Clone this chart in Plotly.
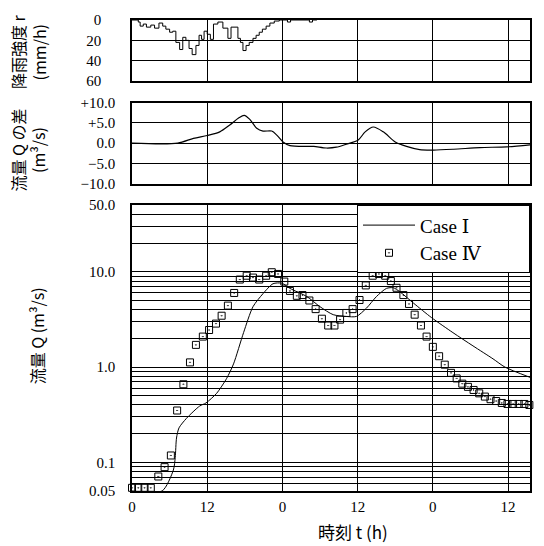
import plotly.graph_objects as go
from plotly.subplots import make_subplots

# ---- data ----
rain_t = [0, 1.0, 1.3, 1.8, 2.3, 3.0, 3.6, 4.3, 4.9, 5.4, 6.0, 6.5, 7.0, 7.6, 8.1, 8.6, 9.1, 9.6,
          10.2, 10.7, 11.1, 11.5, 12.0, 12.5, 13.0, 13.7, 14.5, 15.3, 15.8, 16.9, 17.3, 17.7, 18.2,
          18.7, 19.3, 19.8, 20.3, 20.8, 21.4, 22.0, 22.7, 23.5, 24.8, 25.3, 28.3, 28.8, 29.5]
rain_r = [0, 2, 6, 4, 7, 5, 8, 3, 6, 9, 12, 11, 22, 29, 17, 20, 28, 34,
          25, 15, 19, 11, 14, 19, 4, 2, 8, 18, 7, 18, 22, 30, 25,
          22, 18, 15, 12, 9, 6, 3, 1, 0, 2, 0, 2, 0, 0]

diff_t = [0, 7.3, 9.8, 12.0, 14.0, 15.6, 17.0, 17.9, 18.8, 19.9, 20.9, 22.3, 23.1, 24.1, 25.2,
          27.9, 29.0, 31.0, 32.6, 34.2, 36.1, 37.2, 38.5, 40.1, 42.0, 43.8, 45.9, 48.1, 51.3,
          55.5, 59.8, 63.5]
diff_v = [0, 0, 1.2, 1.9, 2.8, 4.5, 6.2, 6.9, 5.9, 3.7, 3.0, 3.0, 2.0, 0.3, -0.6,
          -0.8, -0.8, -1.2, -1.0, -0.25, 0.8, 2.8, 4.0, 2.8, 0.3, -0.8, -1.6, -1.7, -1.5,
          -1.1, -0.9, -0.4]

case1_t = [0, 4.8, 6.6, 6.9, 7.1, 7.5, 8.7, 10.8, 11.8, 13.5, 15.1, 16.2, 17.8, 19.3, 20.9,
           22.5, 23.9, 25.2, 27.9, 30.0, 32.1, 34.2, 35.8, 37.4, 39.0, 40.6, 41.7, 42.7, 44.9,
           47.8, 51.2, 54.4, 57.6, 59.5, 63.5]
case1_q = [0.05, 0.05, 0.083, 0.113, 0.18, 0.23, 0.29, 0.39, 0.42, 0.53, 0.76, 1.08, 2.3, 4.3, 5.9,
           7.5, 7.6, 6.7, 5.5, 4.3, 3.55, 3.4, 3.4, 4.15, 5.5, 6.7, 6.8, 6.2, 4.7,
           3.3, 2.3, 1.67, 1.22, 1.0, 0.78]

case4_t = [0, 1, 2, 3, 4.2, 5.2, 6.2, 7.2, 8.2, 9.25, 10.2, 11.3, 12.3, 13.4, 14.3, 15.3, 16.3,
           17.2, 18.3, 19.3, 20.3, 21.4, 22.3, 23.3, 24.3, 25.2, 26.3, 27.2, 28.3, 29.3, 30.3,
           31.3, 32.3, 33.2, 34.2, 35.2, 36.3, 37.3, 38.4, 39.4, 40.4, 41.3, 42.2, 43.3, 44.2,
           45.1, 46.1, 47.0, 48.0, 49.0, 49.9, 50.9, 51.8, 52.7, 53.6, 54.5, 55.4, 56.3, 57.2,
           58.1, 59.0, 59.9, 60.8, 61.7, 62.6, 63.4]
case4_q = [0.054, 0.054, 0.054, 0.054, 0.071, 0.089, 0.118, 0.35, 0.66, 1.12, 1.71, 2.09, 2.45,
           2.86, 3.46, 4.42, 6.0, 8.3, 9.1, 8.7, 8.3, 9.1, 9.9, 9.5, 7.9, 6.3, 5.6, 5.7, 5.0,
           4.06, 3.22, 2.73, 2.73, 3.15, 3.7, 4.06, 5.06, 7.2, 9.1, 9.5, 9.1, 8.0, 6.8, 5.7,
           4.6, 3.55, 2.73, 2.09, 1.63, 1.30, 1.06, 0.87, 0.76, 0.67, 0.62, 0.575, 0.53, 0.49,
           0.46, 0.44, 0.42, 0.41, 0.41, 0.41, 0.41, 0.40]

x_tickvals = [0, 12, 24, 36, 48, 60]
x_ticktext = ["0", "12", "0", "12", "0", "12"]
rain_ticks = [0, 20, 40, 60]
diff_ticks = [-10, -5, 0, 5, 10]
diff_ticktext = ["\u221210.0", "\u22125.0", "0.0", "+5.0", "+10.0"]
q_ticks = [0.05, 0.1, 1, 10, 50]
q_ticktext = ["0.05", "0.1", "1.0", "10.0", "50.0"]
q_minor = [0.06, 0.07, 0.08, 0.09, 0.2, 0.3, 0.4, 0.5, 0.6, 0.7, 0.8, 0.9,
           2, 3, 4, 5, 6, 7, 8, 9, 20, 30, 40]

SERIF = "Liberation Serif, DejaVu Serif, Noto Sans CJK JP, serif"
JP = "Noto Sans CJK JP, Liberation Serif, sans-serif"

fig = make_subplots(rows=3, cols=1, shared_xaxes=False)

fig.add_trace(go.Scatter(x=rain_t, y=rain_r, mode="lines", line=dict(color="black", width=1, shape="hv"),
                         showlegend=False), row=1, col=1)
fig.add_trace(go.Scatter(x=diff_t, y=diff_v, mode="lines",
                         line=dict(color="black", width=1.2, shape="spline", smoothing=0.8),
                         showlegend=False), row=2, col=1)
fig.add_trace(go.Scatter(x=case1_t, y=case1_q, mode="lines", name="Case \u2160" + "\u00a0" * 9,
                         line=dict(color="black", width=1, shape="spline", smoothing=0.7)),
              row=3, col=1)
fig.add_trace(go.Scatter(x=case4_t, y=case4_q, mode="markers", name="Case \u2163" + "\u00a0" * 9,
                         marker=dict(symbol="square-open-dot", size=7, color="black",
                                     line=dict(color="black", width=1)),
                         cliponaxis=False), row=3, col=1)

axis_common = dict(showline=True, mirror=True, linecolor="black", linewidth=1.5,
                   showgrid=True, gridcolor="black", gridwidth=1, zeroline=False,
                   tickfont=dict(family=SERIF, size=15, color="black"))

for i in (1, 2, 3):
    fig.update_xaxes(range=[0, 63.5], tickvals=x_tickvals, ticktext=x_ticktext,
                     showticklabels=(i == 3), ticks="outside", ticklen=1,
                     tickcolor="rgba(0,0,0,0)", **axis_common, row=i, col=1)

fig.update_yaxes(range=[60, 0], tickvals=rain_ticks, ticks="outside", ticklen=26,
                 tickcolor="rgba(0,0,0,0)", domain=[0.8703, 1.0], **axis_common, row=1, col=1)
fig.update_yaxes(range=[-10, 10], tickvals=diff_ticks, ticktext=diff_ticktext, ticks="outside",
                 ticklen=12, tickcolor="rgba(0,0,0,0)", domain=[0.6527, 0.8243],
                 **axis_common, row=2, col=1)
fig.update_yaxes(type="log", range=[-1.30103, 1.69897], tickvals=q_ticks, ticktext=q_ticktext,
                 ticks="outside", ticklen=12, tickcolor="rgba(0,0,0,0)", domain=[0.0, 0.6067],
                 minor=dict(tickvals=q_minor, showgrid=True, gridcolor="black", gridwidth=1),
                 **axis_common, row=3, col=1)

annos = [
    dict(text="降雨強度 r<br>(mm/h)", x=-0.26, y=0.933),
    dict(text="流量 Q の差<br>(m³/s)", x=-0.26, y=0.724),
    dict(text="流量 Q (m³/s)", x=-0.2387, y=0.3305),
]
for a in annos:
    fig.add_annotation(text=a["text"], x=a["x"], y=a["y"], xref="paper", yref="paper",
                       textangle=-90, showarrow=False, xanchor="center", yanchor="middle",
                       font=dict(family=JP, size=16, color="black"))
fig.add_annotation(text="時刻 t (h)", x=0.555, y=-0.086, xref="paper", yref="paper",
                   showarrow=False, xanchor="center", yanchor="middle",
                   font=dict(family=JP, size=17, color="black"))

fig.update_layout(
    width=544, height=546,
    margin=dict(l=132, r=14, t=13, b=55),
    paper_bgcolor="white", plot_bgcolor="white",
    legend=dict(x=1, y=0.6067, xanchor="right", yanchor="top", xref="paper", yref="paper",
                bgcolor="white", bordercolor="black", borderwidth=1,
                font=dict(family=SERIF, size=19, color="black"),
                itemwidth=52),
)

fig.write_html("out.html")
